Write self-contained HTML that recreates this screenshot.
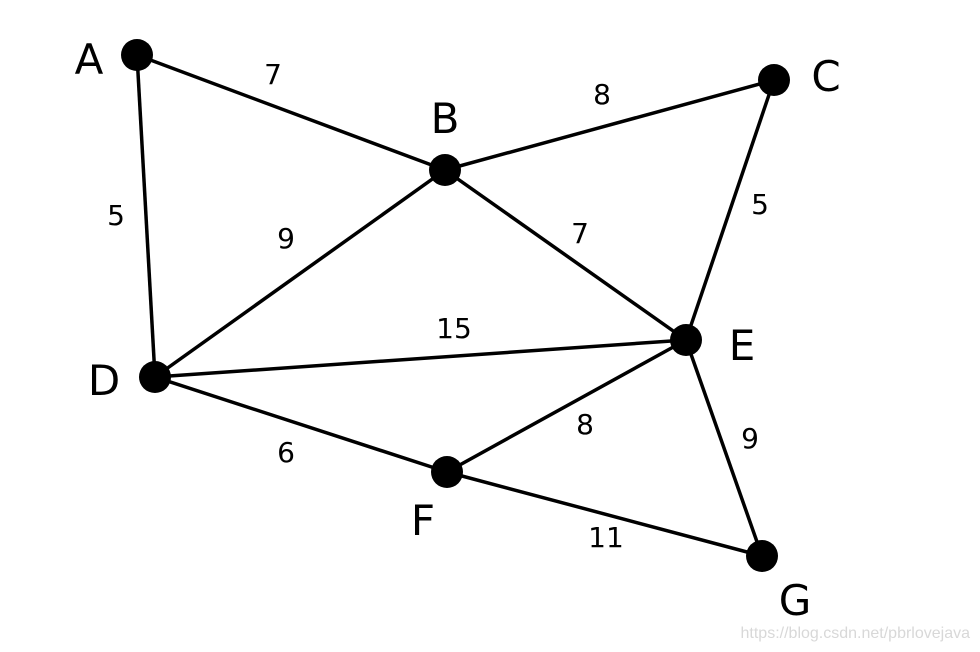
<!DOCTYPE html>
<html><head><meta charset="utf-8"><style>
html,body{margin:0;padding:0;background:#fff;}
svg{display:block;}
text{font-family:"DejaVu Sans","Liberation Sans",sans-serif;fill:#000;}
</style></head><body>
<svg width="980" height="652" viewBox="0 0 980 652">
<g stroke="#000" stroke-width="3.5" fill="none">
<line x1="137" y1="55" x2="445" y2="170"/>
<line x1="137" y1="55" x2="155" y2="377"/>
<line x1="445" y1="170" x2="774" y2="80"/>
<line x1="445" y1="170" x2="155" y2="377"/>
<line x1="445" y1="170" x2="686" y2="340"/>
<line x1="774" y1="80" x2="686" y2="340"/>
<line x1="155" y1="377" x2="686" y2="340"/>
<line x1="155" y1="377" x2="447" y2="472"/>
<line x1="447" y1="472" x2="686" y2="340"/>
<line x1="686" y1="340" x2="762" y2="556"/>
<line x1="447" y1="472" x2="762" y2="556"/>
</g>
<g fill="#000">
<circle cx="137" cy="55" r="16"/><circle cx="445" cy="170" r="16"/>
<circle cx="774" cy="80" r="16"/><circle cx="155" cy="377" r="16"/>
<circle cx="686" cy="340" r="16"/><circle cx="447" cy="472" r="16"/>
<circle cx="762" cy="556" r="16"/>
</g>
<g font-size="42" text-anchor="middle">
<text x="89" y="74">A</text><text x="445" y="133">B</text>
<text x="826" y="91">C</text><text x="104" y="395">D</text>
<text x="742" y="360">E</text><text x="423" y="535">F</text>
<text x="795" y="615">G</text>
</g>
<g font-size="28" text-anchor="middle">
<text x="273" y="84">7</text><text x="602" y="104">8</text>
<text x="116" y="225">5</text><text x="286" y="248">9</text>
<text x="580" y="243">7</text><text x="760" y="214">5</text>
<text x="454" y="338">15</text><text x="286" y="462">6</text>
<text x="585" y="434">8</text><text x="750" y="448">9</text>
<text x="606" y="547">11</text>
</g>
<text x="970" y="638" font-size="16" text-anchor="end" style="fill:#d8d8d8;font-family:'Liberation Sans',sans-serif">https://blog.csdn.net/pbrlovejava</text>
</svg>
</body></html>
